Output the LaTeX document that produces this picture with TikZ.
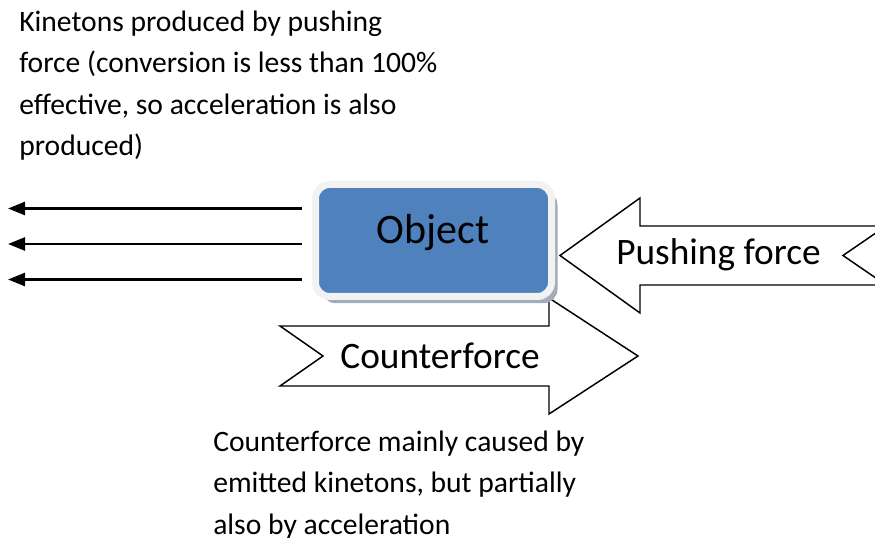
\documentclass[tikz,border=0pt]{standalone}
\usepackage{fontspec}
\setmainfont{Carlito}
\usetikzlibrary{arrows.meta,calc,shadows}

\definecolor{objblue}{HTML}{4F81BD}
\definecolor{objrim}{HTML}{F2F2F2}
\definecolor{objshade}{HTML}{A3ACBA}

\tikzset{
  % multi-line notes are anchored at the baseline of their last line
  note/.style={anchor=base west, align=left, inner sep=0pt,
    font={\fontsize{22.2pt}{31pt}\selectfont}},
  bigarrow/.style={draw=black, fill=white, line width=1.1pt, line join=miter},
  arrowtext/.style={anchor=base, inner sep=0pt, font={\fontsize{28pt}{33pt}\selectfont}},
  kineton/.style={line width=1.9pt, -{Triangle[length=12.75pt,width=9.75pt]}},
  objbox/.style={draw=objrim, fill=objblue, line width=5.25pt,
    rounded corners=10.5pt, minimum width=177pt, minimum height=84pt, inner sep=0pt,
    drop shadow={shadow xshift=4.5pt, shadow yshift=-5pt, fill=objshade, opacity=1}},
}

\begin{document}
\begin{tikzpicture}[x=0.75pt, y=-0.75pt]
  \useasboundingbox (0,0) rectangle (875,538);
  \clip (0,0) rectangle (875,538);

  % explanatory notes
  \node[note] (topnote) at (19,155.6)
    {Kinetons produced by pushing\\force (conversion is less than 100\%\\effective, so acceleration is also\\produced)};
  \node[note] (bottomnote) at (213,534)
    {Counterforce mainly caused by\\emitted kinetons, but partially\\also by acceleration};

  % pushing force: block arrow pointing left, notched tail
  \draw[bigarrow] (560,255.5) -- (640,198) -- (640,226) -- (886,226) -- (843,255.5)
    -- (886,285) -- (640,285) -- (640,313) -- cycle;
  \node[arrowtext] (push) at (718.5,265) {Pushing force};

  % counterforce: block arrow pointing right, notched tail
  \draw[bigarrow] (280,326) -- (549,326) -- (549,298) -- (638,356) -- (549,414)
    -- (549,386) -- (280,386) -- (323,356) -- cycle;
  \node[arrowtext] (counter) at (440,368.3) {Counterforce};

  % the object
  \node[objbox] (obj) at (433.5,240.5) {};
  \node[anchor=base, inner sep=0pt, font={\fontsize{31.5pt}{36pt}\selectfont}]
    (objlabel) at (433,244) {Object};

  % emitted kinetons
  \coordinate (k1) at (8,208.5);
  \coordinate (k2) at (8,244);
  \coordinate (k3) at (8,279.5);
  \foreach \k in {k1,k2,k3}
    \draw[kineton] ($(obj.west |- \k)+(-10,0)$) -- (\k);
\end{tikzpicture}
\end{document}
